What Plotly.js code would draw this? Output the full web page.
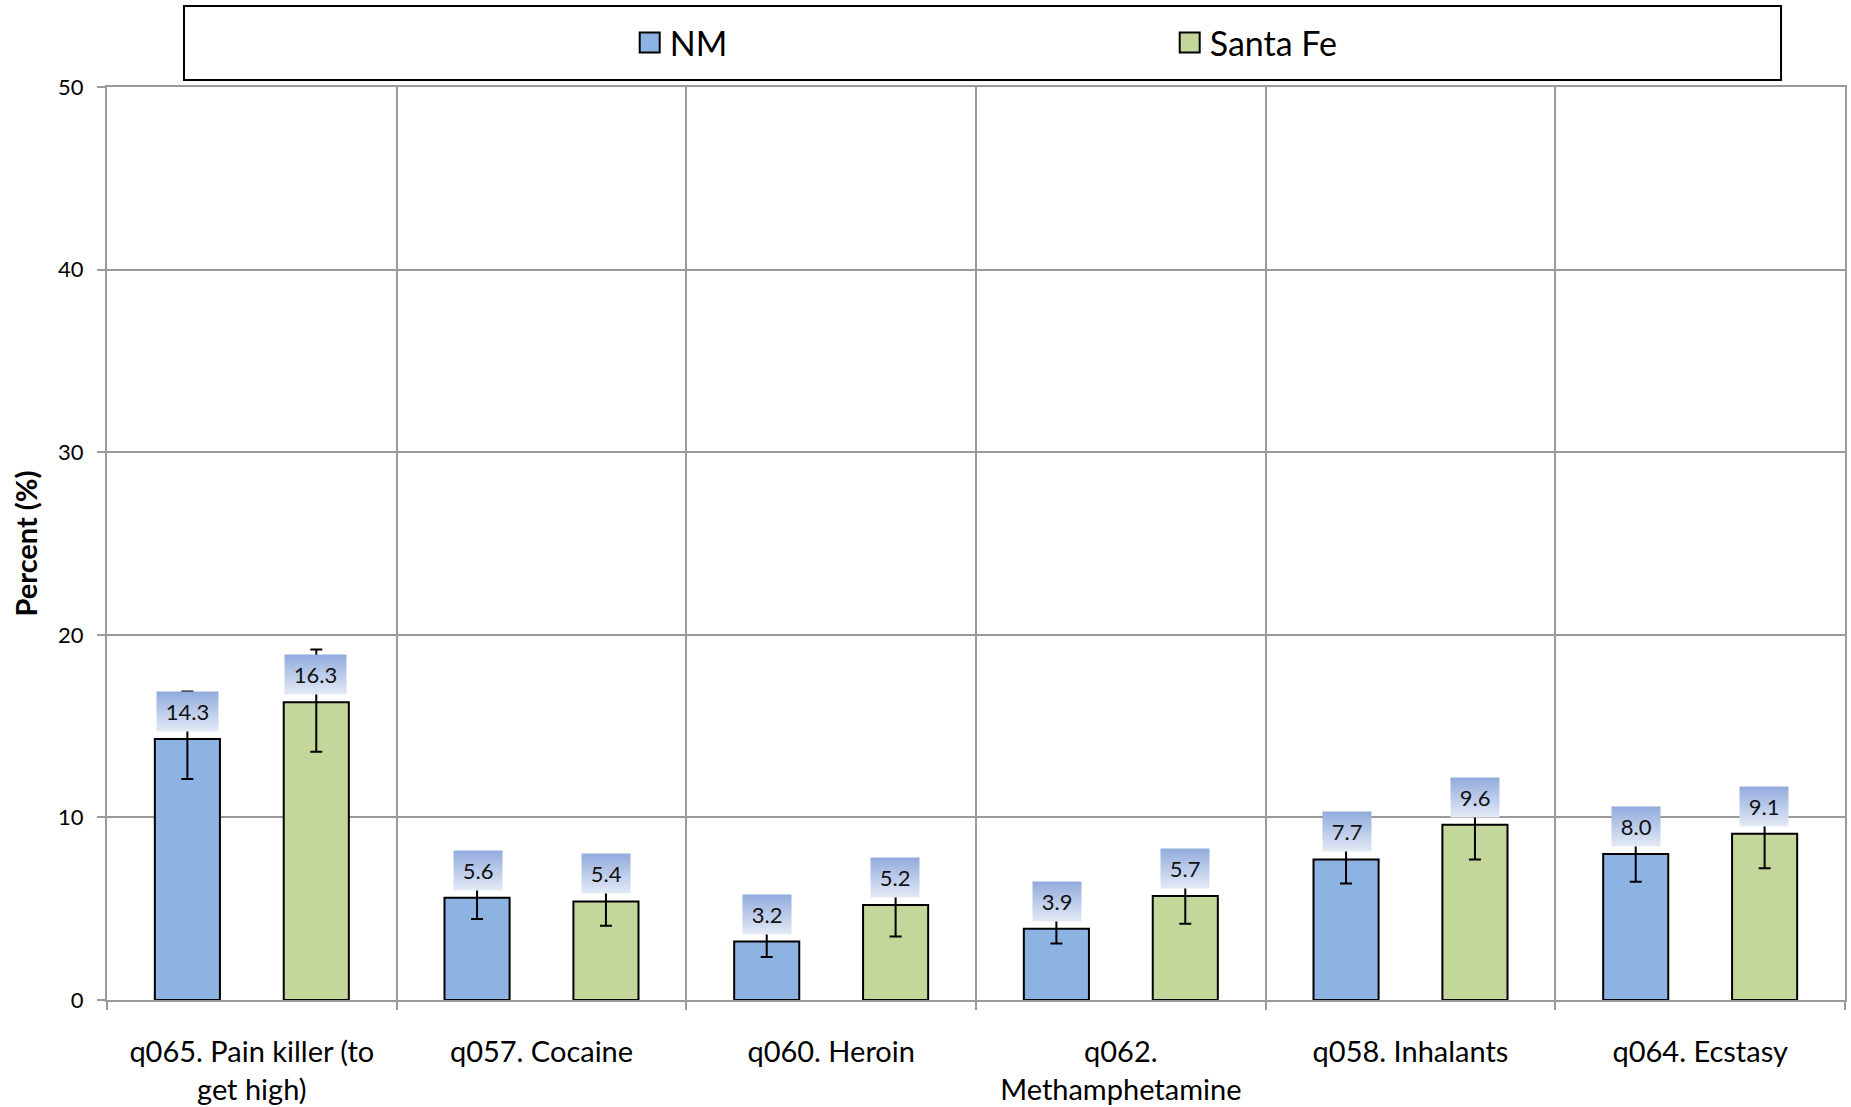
<!DOCTYPE html>
<html>
<head>
<meta charset="utf-8">
<script src="https://cdn.plot.ly/plotly-3.0.1.min.js"></script>
<style>
html,body{margin:0;padding:0;background:#fff;}
#chart{width:1851px;height:1107px;}
</style>
</head>
<body>
<div id="chart"></div>
<script>
// ---- data ----
const categories = [
  "q065. Pain killer (to<br>get high)",
  "q057. Cocaine",
  "q060. Heroin",
  "q062.<br>Methamphetamine",
  "q058. Inhalants",
  "q064. Ecstasy"
];
const seriesNames = ["NM", "Santa Fe"];
const nmValues = [14.3, 5.6, 3.2, 3.9, 7.7, 8.0];
const sfValues = [16.3, 5.4, 5.2, 5.7, 9.6, 9.1];
const nmErrPlus  = [2.6, 1.35, 1.0, 0.95, 1.5, 1.75];
const nmErrMinus = [2.2, 1.17, 0.85, 0.81, 1.32, 1.53];
const sfErrPlus  = [2.9, 1.5, 2.0, 1.75, 2.1, 2.1];
const sfErrMinus = [2.7, 1.33, 1.72, 1.52, 1.9, 1.89];
const yTicks = [0, 10, 20, 30, 40, 50];

// ---- styles ----
const FONT = "Lato, 'Open Sans', sans-serif";
const nmColor = "#8DB3E2";
const sfColor = "#C4D79B";
const gridColor = "#9a9a9a";
const barShift = 64;

function barTrace(name, vals, plus, minus, color) {
  return {
    type: "bar", name: name, x: categories, y: vals,
    marker: {color: color, line: {color: "#000", width: 2}},
    error_y: {type: "data", symmetric: false, array: plus, arrayminus: minus,
              color: "#000", thickness: 2, width: 6},
    showlegend: false, hoverinfo: "skip"
  };
}
function legendTrace(name, color) {
  return {
    type: "scatter", mode: "markers", name: name, x: [null], y: [null],
    marker: {symbol: "square", size: 16, color: color, line: {color: "#000", width: 1.6}},
    showlegend: true, hoverinfo: "skip"
  };
}

const data = [
  barTrace(seriesNames[0], nmValues, nmErrPlus, nmErrMinus, nmColor),
  barTrace(seriesNames[1], sfValues, sfErrPlus, sfErrMinus, sfColor),
  legendTrace(seriesNames[0], nmColor),
  legendTrace(seriesNames[1], sfColor)
];

const annotations = [];
[[nmValues, -barShift], [sfValues, barShift]].forEach(([vals, shift]) => {
  vals.forEach((v, i) => {
    annotations.push({
      x: categories[i], y: v, xref: "x", yref: "y",
      text: "\u2009" + v.toFixed(1) + "\u2009",
      showarrow: false, xshift: shift, yshift: 7, yanchor: "bottom",
      bgcolor: "#b8c9ea", borderpad: 6,
      font: {family: FONT, size: 22, color: "#111"}
    });
  });
});

const layout = {
  width: 1851, height: 1107,
  margin: {l: 107, r: 6, t: 87, b: 107},
  paper_bgcolor: "#fff", plot_bgcolor: "#fff",
  font: {family: FONT, color: "#000"},
  barmode: "group", bargap: 0.11, bargroupgap: 0.495,
  xaxis: {
    type: "category", range: [-0.5, 5.5],
    tickson: "boundaries", ticks: "outside", ticklen: 8, tickwidth: 2, tickcolor: gridColor,
    showgrid: true, gridcolor: gridColor, gridwidth: 2,
    showline: true, linecolor: gridColor, linewidth: 2, mirror: true,
    tickfont: {family: FONT, size: 29, color: "#000"},
    ticklabelstandoff: 25, fixedrange: true
  },
  yaxis: {
    range: [0, 50], tickvals: yTicks, ticktext: yTicks.map(String),
    ticks: "outside", ticklen: 8, tickwidth: 2, tickcolor: gridColor,
    showgrid: true, gridcolor: gridColor, gridwidth: 2,
    showline: true, linecolor: gridColor, linewidth: 2, mirror: true,
    zeroline: false,
    tickfont: {family: FONT, size: 22, color: "#000"},
    ticklabelstandoff: 9,
    title: {text: "Percent (%)", font: {family: FONT, size: 29, color: "#000", weight: "bold"}, standoff: 12},
    fixedrange: true
  },
  showlegend: true,
  legend: {
    orientation: "h", xref: "container", yref: "container",
    x: 0.3402, xanchor: "left", y: 1 - 43 / 1107, yanchor: "middle",
    font: {family: FONT, size: 34, color: "#000"},
    entrywidth: 495, entrywidthmode: "pixels",
    itemsizing: "trace", bgcolor: "rgba(0,0,0,0)", borderwidth: 0,
    tracegroupgap: 0
  },
  shapes: [{
    type: "rect", xref: "paper", yref: "paper",
    x0: 0.0443, x1: 0.9632, y0: 1.0077, y1: 1.0887,
    line: {color: "#000", width: 2}, fillcolor: "rgba(0,0,0,0)", layer: "above"
  }],
  annotations: annotations
};

Plotly.newPlot("chart", data, layout, {staticPlot: true, displayModeBar: false}).then(gd => {
  const ns = "http://www.w3.org/2000/svg";
  const svg = gd.querySelector("svg.main-svg");
  let defs = svg.querySelector("defs");
  if (!defs) { defs = document.createElementNS(ns, "defs"); svg.insertBefore(defs, svg.firstChild); }
  const lg = document.createElementNS(ns, "linearGradient");
  lg.setAttribute("id", "lblgrad");
  lg.setAttribute("x1", "0"); lg.setAttribute("y1", "0");
  lg.setAttribute("x2", "0"); lg.setAttribute("y2", "1");
  [["0", "#91ABDD"], ["1", "#E4EAF6"]].forEach(([o, c]) => {
    const s = document.createElementNS(ns, "stop");
    s.setAttribute("offset", o); s.setAttribute("stop-color", c);
    lg.appendChild(s);
  });
  defs.appendChild(lg);
  gd.querySelectorAll("g.annotation rect.bg").forEach(r => { r.style.fill = "url(#lblgrad)"; });
  // enlarge legend swatches to match the reference's larger squares
  gd.querySelectorAll("g.legend g.legendpoints path.scatterpts").forEach(p => {
    const t = p.getAttribute("transform") || "";
    p.setAttribute("transform", t + " scale(1.25)");
  });
});
</script>
</body>
</html>
